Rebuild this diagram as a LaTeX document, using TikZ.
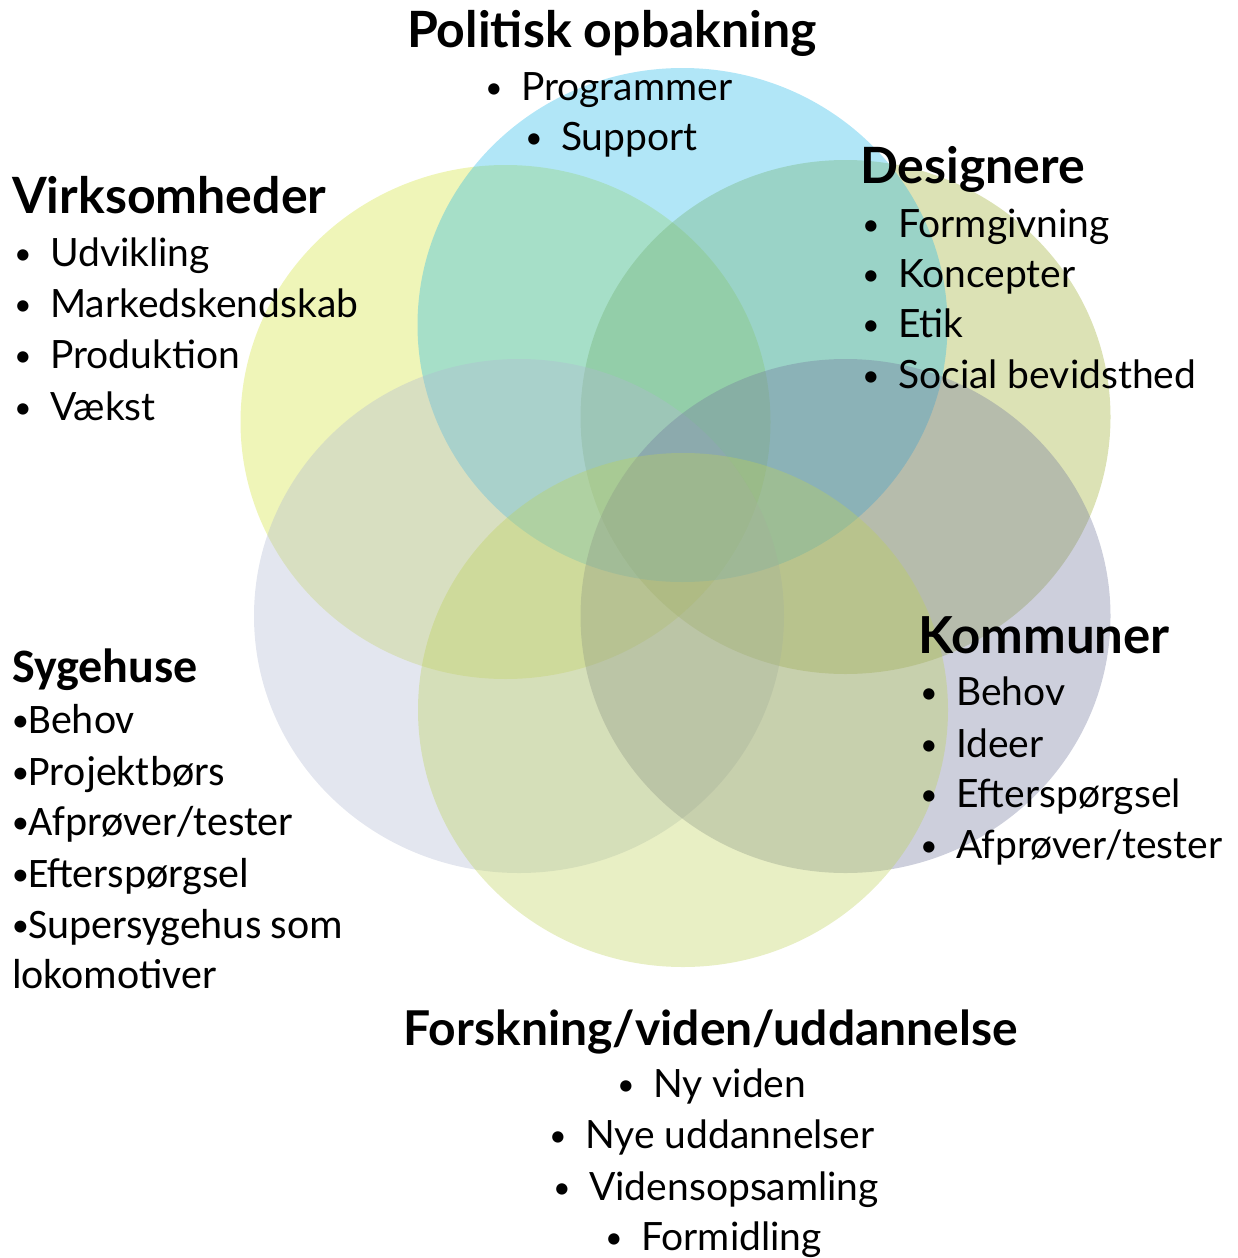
\documentclass[tikz,border=0pt]{standalone}
\usepackage{fontspec}
\setmainfont{Lato}
\newfontfamily\calfont{Carlito}
\definecolor{cBlue}{RGB}{32,184,232}
\definecolor{cVirk}{RGB}{209,226,52}
\definecolor{cDes}{RGB}{155,172,44}
\definecolor{cSyg}{RGB}{175,184,209}
\definecolor{cKom}{RGB}{112,118,155}
\definecolor{cFor}{RGB}{189,209,86}
\newcommand{\bul}{\makebox[36pt][l]{\raisebox{1.5pt}{\scalebox{0.78}{•}}}}
\newcommand{\cbul}{\makebox[16pt][l]{\raisebox{1.5pt}{\scalebox{0.8}{•}}}}
\begin{document}
\begin{tikzpicture}[x=1pt,y=-1pt,
  blob/.style={fill=#1,fill opacity=0.35,draw=none},
  head/.style={inner sep=0,font=\fontsize{50}{52}\selectfont\bfseries},
  item/.style={inner sep=0,anchor=base west,font=\fontsize{39}{40}\selectfont},
  chead/.style={inner sep=0,anchor=base west,font=\calfont\fontsize{48}{50}\selectfont\bfseries},
  citem/.style={inner sep=0,anchor=base west,font=\calfont\fontsize{42}{44}\selectfont}]
\useasboundingbox (0,0) rectangle (1238,1258);
% circles
\fill[blob=cVirk] (505.5,422) ellipse [x radius=265, y radius=257];
\fill[blob=cDes] (845.5,417) ellipse [x radius=265, y radius=257];
\fill[blob=cBlue] (682.5,325) ellipse [x radius=265, y radius=257];
\fill[blob=cSyg] (519,616) ellipse [x radius=265, y radius=257];
\fill[blob=cKom] (845.5,616) ellipse [x radius=265, y radius=257];
\fill[blob=cFor] (683,710) ellipse [x radius=265, y radius=257];
% Politisk
\node[head,anchor=base] (ph) at (612,47) {Politisk opbakning};
\node[item] (p1) at (485,100) {\bul Programmer};
\node[item] (p2) at (525,150) {\bul Support};
% Virksomheder
\node[head,anchor=base west] (vh) at (12,213) {Virksomheder};
\node[item] (v1) at (14,266) {\bul Udvikling};
\node[item] (v2) at (14,317) {\bul Markedskendskab};
\node[item] (v3) at (14,368) {\bul Produktion};
\node[item] (v4) at (14,420) {\bul Vækst};
% Designere
\node[head,anchor=base west] (dh) at (860,183) {Designere};
\node[item] (d1) at (862,237) {\bul Formgivning};
\node[item] (d2) at (862,287) {\bul Koncepter};
\node[item] (d3) at (862,337) {\bul Etik};
\node[item] (d4) at (862,388) {\bul Social bevidsthed};
% Kommuner
\node[head,anchor=base west,font=\fontsize{51}{53}\selectfont\bfseries] (kh) at (918,653) {Kommuner};
\node[item] (k1) at (920,705) {\bul Behov};
\node[item] (k2) at (920,757) {\bul Ideer};
\node[item] (k3) at (920,807) {\bul Efterspørgsel};
\node[item] (k4) at (920,858) {\bul Afprøver/tester};
% Sygehuse
\node[chead] (sh) at (12,682) {Sygehuse};
\node[citem] (s1) at (12,733) {\cbul Behov};
\node[citem] (s2) at (12,785) {\cbul Projektbørs};
\node[citem] (s3) at (12,835) {\cbul Afprøver/tester};
\node[citem] (s4) at (12,887) {\cbul Efterspørgsel};
\node[citem] (s5) at (12,938) {\cbul Supersygehus som};
\node[citem] (s6) at (12,988) {lokomotiver};
% Forskning
\node[head,anchor=base,font=\fontsize{48}{50}\selectfont\bfseries] (fh) at (711,1045) {Forskning/viden/uddannelse};
\node[item] (f1) at (617,1097) {\bul Ny viden};
\node[item] (f2) at (549,1148) {\bul Nye uddannelser};
\node[item] (f3) at (553,1200) {\bul Vidensopsamling};
\node[item] (f4) at (605,1250) {\bul Formidling};
\end{tikzpicture}
\end{document}
